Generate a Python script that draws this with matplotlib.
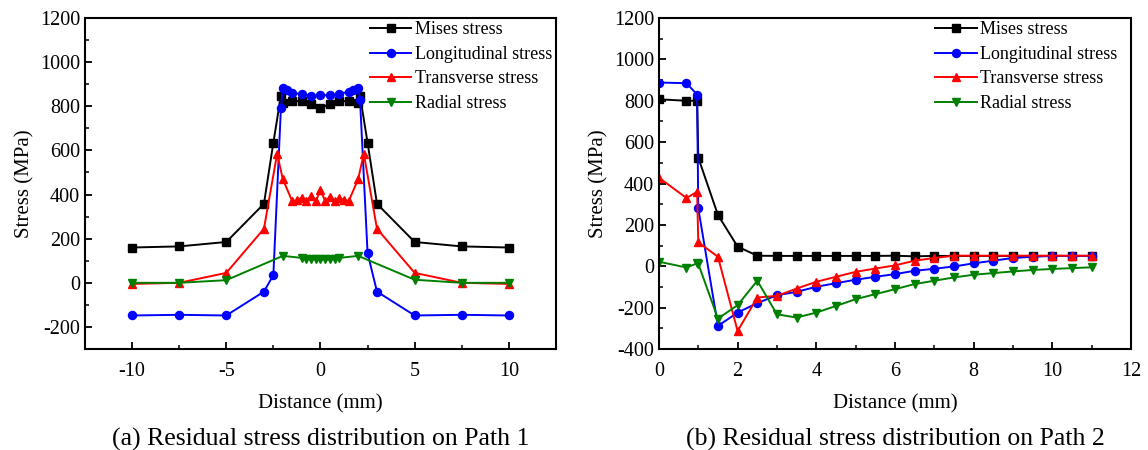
# Residual stress distribution, Path 1 / Path 2 (two panels)

import matplotlib.pyplot as plt
from matplotlib.ticker import MultipleLocator

plt.rcParams['font.family'] = ['Liberation Serif', 'DejaVu Serif']
plt.rcParams['axes.unicode_minus'] = False

labels = ['Mises stress', 'Longitudinal stress', 'Transverse stress', 'Radial stress']
colors = ['black', 'blue', 'red', 'green']
markers = ['s', 'o', '^', 'v']

# ---- Path 1 (panel a) ----
x1_mises = [-10, -7.5, -5, -3, -2.5, -2.1, -2, -1.5, -1, -0.5, 0, 0.5, 1, 1.5, 2, 2.1, 2.5, 3, 5, 7.5, 10]
y1_mises = [160, 165, 185, 358, 635, 848, 815, 822, 825, 810, 792, 810, 825, 822, 815, 848, 635, 358, 185, 165, 160]

x1_long = [-10, -7.5, -5, -3, -2.5, -2.1, -2, -1.75, -1.5, -1, -0.5, 0, 0.5, 1, 1.5, 1.75, 2, 2.1, 2.5, 3, 5, 7.5, 10]
y1_long = [-148, -145, -148, -40, 35, 790, 884, 872, 862, 854, 848, 850, 850, 857, 865, 872, 885, 830, 135, -40, -148, -145, -148]

x1_trans = [-10, -7.5, -5, -3, -2.3, -2, -1.5, -1.25, -1, -0.75, -0.5, -0.25, 0,
            0.25, 0.5, 0.75, 1, 1.25, 1.5, 2, 2.3, 3, 5, 7.5, 10]
y1_trans = [-5, 0, 45, 245, 585, 470, 370, 375, 385, 370, 393, 370, 420,
            370, 390, 370, 385, 375, 370, 470, 585, 245, 45, 0, -5]

x1_rad = [-10, -7.5, -5, -2, -1, -0.75, -0.5, -0.25, 0, 0.25, 0.5, 0.75, 1, 2, 5, 7.5, 10]
y1_rad = [0, 0, 12, 122, 113, 108, 106, 106, 106, 106, 106, 108, 113, 122, 14, 0, 0]

# ---- Path 2 (panel b) ----
x2 = [0, 0.7, 0.97, 1.0, 1.5, 2, 2.5, 3, 3.5, 4, 4.5, 5, 5.5, 6, 6.5, 7, 7.5, 8, 8.5, 9, 9.5, 10, 10.5, 11]
y2_mises = [807, 800, 800, 525, 248, 95, 51, 50, 50, 50, 50, 50, 50, 51, 48, 50, 50, 50, 50, 50, 50, 50, 50, 50]
y2_long = [888, 885, 830, 280, -288, -224, -178, -140, -124, -99, -82, -65, -51, -38, -22, -12, -1, 14, 27, 40, 46, 50, 50, 50]
y2_trans = [428, 330, 360, 116, 46, -313, -151, -143, -108, -75, -51, -27, -11, 4, 27, 40, 51, 51, 51, 51, 51, 51, 51, 51]
y2_rad = [22, -6, 14, 12, -253, -188, -70, -232, -248, -224, -192, -159, -135, -111, -86, -70, -54, -41, -33, -25, -18, -13, -9, -5]

fig = plt.figure(figsize=(11.48, 4.5), dpi=100)
ax1 = fig.add_axes([0.074, 0.2244, 0.4103, 0.7356])
ax2 = fig.add_axes([0.574, 0.2244, 0.4111, 0.7356])

panel1 = [(x1_mises, y1_mises), (x1_long, y1_long), (x1_trans, y1_trans), (x1_rad, y1_rad)]
panel2 = [(x2, y2_mises), (x2, y2_long), (x2, y2_trans), (x2, y2_rad)]

for ax, series in [(ax1, panel1), (ax2, panel2)]:
    for (xs, ys), lab, c, m in zip(series, labels, colors, markers):
        ax.plot(xs, ys, color=c, marker=m, markersize=5.8, linewidth=1.4, label=lab)

# panel a axes
ax1.set_xlim(-12.5, 12.5)
ax1.set_ylim(-300, 1200)
ax1.xaxis.set_major_locator(MultipleLocator(5))
ax1.xaxis.set_minor_locator(MultipleLocator(2.5))
ax1.yaxis.set_major_locator(MultipleLocator(200))
ax1.yaxis.set_minor_locator(MultipleLocator(100))

# panel b axes
ax2.set_xlim(0, 12)
ax2.set_ylim(-400, 1200)
ax2.xaxis.set_major_locator(MultipleLocator(2))
ax2.xaxis.set_minor_locator(MultipleLocator(1))
ax2.yaxis.set_major_locator(MultipleLocator(200))
ax2.yaxis.set_minor_locator(MultipleLocator(100))

for ax in (ax1, ax2):
    for s in ax.spines.values():
        s.set_linewidth(1.5)
    ax.tick_params(which='major', direction='in', length=5, width=1.3, labelsize=14.5)
    ax.tick_params(axis='x', which='major', pad=9)
    ax.tick_params(which='minor', direction='in', length=3, width=1.1)
    ax.set_xlabel('Distance (mm)', fontsize=15, labelpad=10)
    ax.set_ylabel('Stress (MPa)', fontsize=15, labelpad=4)

ax1.legend(loc='upper left', bbox_to_anchor=(0.605, 0.99), frameon=False, fontsize=13,
           handlelength=2.3, handletextpad=0.2, labelspacing=0.42, borderpad=0, borderaxespad=0)
ax2.legend(loc='upper left', bbox_to_anchor=(0.585, 0.99), frameon=False, fontsize=13,
           handlelength=2.3, handletextpad=0.2, labelspacing=0.42, borderpad=0, borderaxespad=0)

fig.text(0.2792, 0.024, '(a) Residual stress distribution on Path 1', ha='center', va='center', fontsize=18.5)
fig.text(0.7796, 0.024, '(b) Residual stress distribution on Path 2', ha='center', va='center', fontsize=18.5)

plt.savefig('out.png', dpi=100)
plt.close()
